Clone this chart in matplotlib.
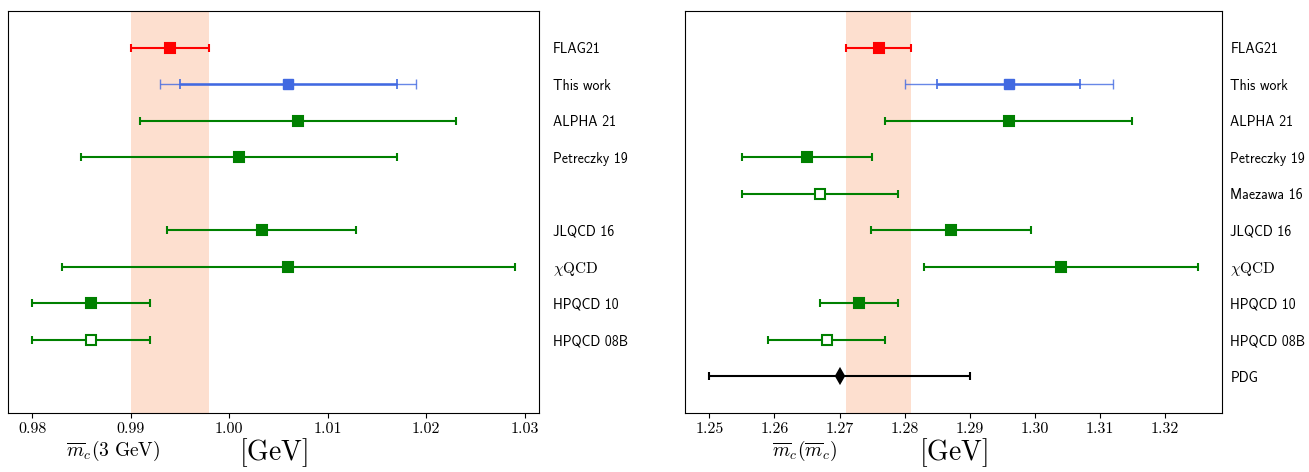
import matplotlib.pyplot as plt
import numpy as np

plt.rcParams['mathtext.fontset'] = 'cm'

# rows from top to bottom
labels = ['FLAG21', 'This work', 'ALPHA 21', 'Petreczky 19', 'Maezawa 16',
          'JLQCD 16', r'$\chi\mathrm{QCD}$', 'HPQCD 10', 'HPQCD 08B', 'PDG']

# mbar_c(3 GeV): central value and total error (nan = no result)
mc3_val = [0.994, 1.006, 1.007, 1.001, np.nan, 1.0033, 1.006, 0.986, 0.986, np.nan]
mc3_err = [0.004, 0.013, 0.016, 0.016, np.nan, 0.0096, 0.023, 0.006, 0.006, np.nan]
mc3_stat = 0.011  # statistical part for this work

# mbar_c(mbar_c)
mcmc_val = [1.276, 1.296, 1.296, 1.265, 1.267, 1.2871, 1.304, 1.273, 1.268, 1.270]
mcmc_err = [0.005, 0.016, 0.019, 0.010, 0.012, 0.0123, 0.021, 0.006, 0.009, 0.020]
mcmc_stat = 0.011

colors = ['red', 'royalblue'] + ['green'] * 7 + ['black']
markers = ['s'] * 9 + ['d']
filled = [True, True, True, True, False, True, True, True, False, True]

band_color = '#fddfcf'


def draw_panel(ax, vals, errs, stat, xlab, xlab_pos, pad):
    rows = np.arange(len(labels))
    # FLAG average band
    ax.axvspan(vals[0] - errs[0], vals[0] + errs[0], color=band_color, lw=0, zorder=0)
    for i in rows:
        if np.isnan(vals[i]):
            continue
        mfc = colors[i] if filled[i] else 'white'
        ms = 7
        if i == 1:
            # total error (outer) and statistical error (inner)
            ax.errorbar(vals[i], i, xerr=errs[i], fmt='none', ecolor=colors[i],
                        elinewidth=1.0, capsize=3.5, capthick=1.0, alpha=0.8)
            ax.errorbar(vals[i], i, xerr=stat, fmt=markers[i], color=colors[i],
                        mfc=mfc, ms=ms, elinewidth=1.8, capsize=3.5, capthick=1.2)
        else:
            ax.errorbar(vals[i], i, xerr=errs[i], fmt=markers[i], color=colors[i],
                        mfc=mfc, mew=1.5, ms=ms if filled[i] else 6.5,
                        elinewidth=1.5, capsize=3, capthick=1.2)
    ax.set_ylim(len(labels), -1)
    ax.yaxis.tick_right()
    ax.tick_params(axis='y', length=0, pad=pad)
    ax.set_yticks(rows)
    ax.set_yticklabels(
        [lab if not np.isnan(v) else '' for lab, v in zip(labels, vals)],
        fontfamily='cmss10', fontsize=10)
    ax.xaxis.set_major_formatter(plt.FormatStrFormatter('%.2f'))
    for t in ax.get_xticklabels():
        t.set_fontfamily('cmr10')
        t.set_fontsize(11.5)
    ax.set_xlabel(r'$[\mathrm{GeV}]$', fontsize=20, labelpad=0)
    ax.text(xlab_pos, -0.095, xlab, transform=ax.transAxes, fontsize=14,
            ha='center', va='center')


fig = plt.figure(figsize=(13.09, 4.72), dpi=100)
ax1 = fig.add_axes([0.0061, 0.125, 0.4056, 0.8517])
ax2 = fig.add_axes([0.5233, 0.125, 0.4102, 0.8517])

draw_panel(ax1, mc3_val, mc3_err, mc3_stat,
           r'$\overline{m}_c(3\ \mathrm{GeV})$', 0.198, 10)
draw_panel(ax2, mcmc_val, mcmc_err, mcmc_stat,
           r'$\overline{m}_c(\overline{m}_c)$', 0.223, 6)

# the chi-QCD label is set in math type, a bit larger than the rest
for ax in (ax1, ax2):
    for t in ax.get_yticklabels():
        if 'chi' in t.get_text():
            t.set_fontsize(11)

fig.savefig('out.png', dpi=100)
